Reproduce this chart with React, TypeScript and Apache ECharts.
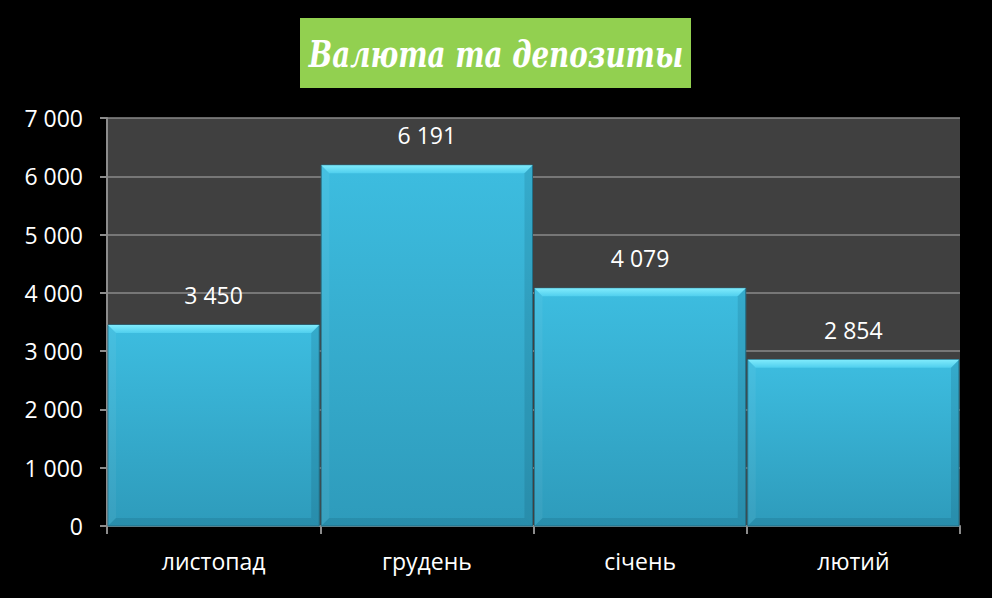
import React, { useEffect, useRef } from "react";
import * as echarts from "echarts";

const categories = ["листопад", "грудень", "січень", "лютий"];
const values = [3450, 6191, 4079, 2854];
const yTicks = [0, 1000, 2000, 3000, 4000, 5000, 6000, 7000];
const titleText = "Валюта та депозиты";

const fmt = (v: number) => String(v).replace(/\B(?=(\d{3})+(?!\d))/g, " ");

export default function App() {
  const ref = useRef<HTMLDivElement>(null);
  useEffect(() => {
    document.body.style.margin = "0";
    document.body.style.background = "#000";
    const chart = echarts.init(ref.current!, null, { renderer: "svg" });
    const font = "'Open Sans', 'Noto Sans', sans-serif";
    chart.setOption({
      animation: false,
      backgroundColor: "#000",
      graphic: [
        { type: "rect", left: 300, top: 18, shape: { width: 391, height: 70 }, style: { fill: "#92D050" }, z: 10 },
        {
          type: "text",
          x: 496,
          y: 54,
          scaleX: 0.73,
          style: {
            text: titleText,
            fill: "#fff",
            font: "italic bold 38px 'DejaVu Serif', serif",
            textAlign: "center",
            textVerticalAlign: "middle",
          },
          z: 11,
        },
      ],
      grid: { left: 107, right: 32, top: 118, bottom: 72, backgroundColor: "#404040", show: true, borderWidth: 0 },
      xAxis: {
        type: "category",
        data: categories,
        axisLine: { lineStyle: { color: "#8c8c8c", width: 2 } },
        axisTick: { show: true, length: 8, lineStyle: { color: "#8c8c8c", width: 2 } },
        axisLabel: { color: "#fff", fontSize: 23, fontFamily: font, margin: 23 },
      },
      yAxis: {
        type: "value",
        min: 0,
        max: 7000,
        interval: 1000,
        axisLine: { show: true, lineStyle: { color: "#8c8c8c", width: 2 } },
        axisTick: { show: true, length: 7, lineStyle: { color: "#8c8c8c", width: 2 } },
        splitLine: { lineStyle: { color: "#8a8a8a", width: 1.5 } },
        axisLabel: {
          color: "#fff",
          fontSize: 23,
          fontFamily: font,
          margin: 24,
          formatter: (v: number) => (yTicks.includes(v) ? fmt(v) : ""),
        },
      },
      series: [
        {
          type: "custom",
          data: values.map((v, i) => [i, v]),
          encode: { x: 0, y: 1 },
          renderItem: (params: any, api: any) => {
            const idx = api.value(0);
            const val = api.value(1);
            const top = api.coord([idx, val]);
            const base = api.coord([idx, 0]);
            const size = api.size([1, 0]);
            const w = size[0] - 2;
            const x0 = top[0] - w / 2;
            const x1 = x0 + w;
            const y0 = top[1];
            const y1 = base[1];
            const b = 8;
            return {
              type: "group",
              children: [
                {
                  type: "rect",
                  shape: { x: x0, y: y0, width: w, height: y1 - y0 },
                  style: {
                    fill: new echarts.graphic.LinearGradient(0, 0, 0, 1, [
                      { offset: 0, color: "#3DBDE0" },
                      { offset: 1, color: "#2E9BBB" },
                    ]),
                    stroke: "#25748c",
                    lineWidth: 1,
                  },
                },
                {
                  type: "polygon",
                  shape: { points: [[x0, y0], [x1, y0], [x1 - b, y0 + b], [x0 + b, y0 + b]] },
                  style: {
                    fill: new echarts.graphic.LinearGradient(0, 0, 0, 1, [
                      { offset: 0, color: "#80EBFC" },
                      { offset: 1, color: "#50CFEE" },
                    ]),
                  },
                },
                {
                  type: "polygon",
                  shape: { points: [[x0, y0], [x0 + b, y0 + b], [x0 + b, y1 - b], [x0, y1]] },
                  style: { fill: "rgba(255,255,255,0.05)" },
                },
                {
                  type: "polygon",
                  shape: { points: [[x1, y0], [x1 - b, y0 + b], [x1 - b, y1 - b], [x1, y1]] },
                  style: { fill: "rgba(0,40,60,0.12)" },
                },
                {
                  type: "polygon",
                  shape: { points: [[x0, y1], [x0 + b, y1 - b], [x1 - b, y1 - b], [x1, y1]] },
                  style: { fill: "rgba(0,40,60,0.12)" },
                },
                {
                  type: "text",
                  style: {
                    text: fmt(val),
                    x: top[0],
                    y: y0 - 30,
                    textAlign: "center",
                    textVerticalAlign: "middle",
                    fill: "#fff",
                    font: "23px " + font,
                  },
                },
              ],
            };
          },
        },
      ],
    });
    return () => chart.dispose();
  }, []);
  return <div ref={ref} style={{ position: "fixed", left: 0, top: 0, width: 992, height: 598, background: "#000" }} />;
}
